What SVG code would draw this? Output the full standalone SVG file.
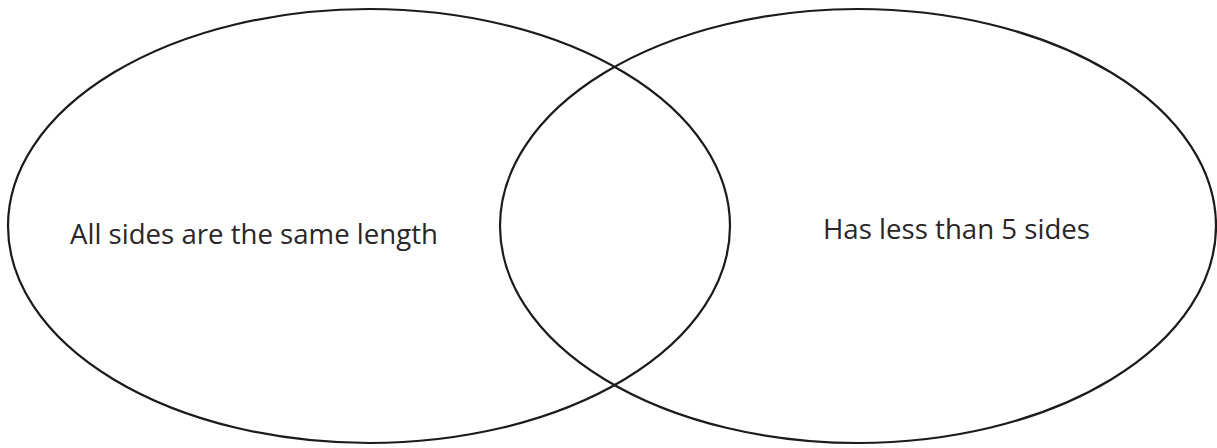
<svg xmlns="http://www.w3.org/2000/svg" width="1217" height="448" viewBox="0 0 1217 448">
<style>
.set{fill:none;stroke:#1d1a1b;stroke-width:2.2}
.lbl{font-family:"Open Sans","Liberation Sans",sans-serif;font-size:28px;fill:#2a2627}
</style>
<rect width="1217" height="448" fill="#ffffff"/>
<g id="set-left">
<ellipse class="set" cx="369" cy="226" rx="361" ry="217"/>
<text class="lbl" x="70" y="244" textLength="368" lengthAdjust="spacingAndGlyphs">All sides are the same length</text>
</g>
<g id="set-right">
<ellipse class="set" cx="858" cy="226" rx="358" ry="217"/>
<text class="lbl" x="823" y="239" textLength="267" lengthAdjust="spacingAndGlyphs">Has less than 5 sides</text>
</g>
<g id="connectors"></g>
</svg>
